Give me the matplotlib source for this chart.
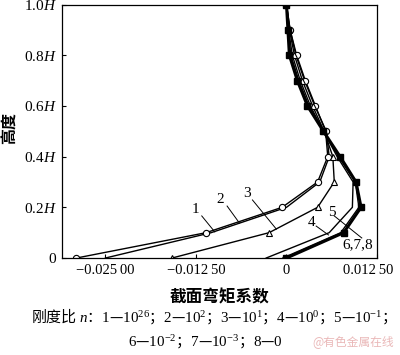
import matplotlib
matplotlib.use("Agg")
import matplotlib.pyplot as plt
import matplotlib.transforms as mtransforms

plt.rcParams['font.family'] = ['Liberation Serif', 'DejaVu Serif']
plt.rcParams['mathtext.fontset'] = 'custom'
plt.rcParams['mathtext.rm'] = 'Liberation Serif'
plt.rcParams['mathtext.it'] = 'Liberation Serif:italic'

# heights (fraction of H)
heights = [0.0, 0.1, 0.2, 0.3, 0.4, 0.5, 0.6, 0.7, 0.8, 0.9, 1.0]

# section moment coefficient for each stiffness ratio
curve1 = [-0.0290, -0.0111, -0.0006, 0.0043, 0.0057, 0.0054, 0.0040, 0.0026, 0.0014, 0.0005, 0.0]
curve2 = [-0.0250, -0.0104, 0.0000, 0.0046, 0.0059, 0.0055, 0.0039, 0.0025, 0.0013, 0.0005, 0.0]
curve3 = [-0.0158, -0.0024, 0.0043, 0.0066, 0.0064, 0.0052, 0.0036, 0.0022, 0.0011, 0.0004, 0.0]
curve4 = [-0.0028, 0.0059, 0.0091, 0.0092, 0.0070, 0.0051, 0.0033, 0.0019, 0.0008, 0.0003, 0.0]
curve5 = [-0.0005, 0.0075, 0.0100, 0.0095, 0.0072, 0.0051, 0.0031, 0.0017, 0.0006, 0.0002, 0.0]
curve678 = [0.0, 0.0079, 0.0103, 0.0096, 0.0074, 0.0051, 0.0029, 0.0015, 0.0004, 0.0002, 0.0]

xticks = [-0.025, -0.0125, 0.0, 0.0125]
xticklabels = ['\u22120.025\u200900', '\u22120.012\u200950', '0', '0.012\u200950']
yticks = [0.0, 0.2, 0.4, 0.6, 0.8, 1.0]
yticklabels = ['0', '0.2$H$', '0.4$H$', '0.6$H$', '0.8$H$', '1.0$H$']

# curve labels: text, text position, leader start, leader end
labels = [
    ('1', (-0.0125, 0.193), (-0.0117, 0.166), (-0.0099, 0.103)),
    ('2', (-0.0091, 0.229), (-0.0082, 0.205), (-0.0065, 0.138)),
    ('3', (-0.0054, 0.256), (-0.0047, 0.229), (-0.0014, 0.114)),
    ('4', (0.0034, 0.142), (0.0041, 0.126), (0.0058, 0.091)),
    ('5', (0.0062, 0.178), (0.0066, 0.166), (0.0104, 0.079)),
    ('6,7,8', (0.0098, 0.051), None, None),
]

fig = plt.figure(figsize=(4.0, 3.55), dpi=100)
ax = fig.add_axes([0.155, 0.2732, 0.7875, 0.7141])

ax.plot(curve2, heights, color='black', lw=1.0)
ax.plot(curve1, heights, color='black', lw=1.0, marker='o', ms=4.5,
        mfc='white', mec='black', mew=0.8)
ax.plot(curve3, heights, color='black', lw=1.0, marker='^', ms=4,
        mfc='white', mec='black', mew=0.8)
ax.plot(curve4, heights, color='black', lw=1.0)
ax.plot(curve5, heights, color='black', lw=1.0)
ax.plot(curve678, heights, color='black', lw=2.2, marker='s', ms=4.5,
        mfc='black', mec='black')

for txt, pos, p0, p1 in labels:
    ax.text(pos[0], pos[1], txt, fontsize=11, ha='center', va='center')
    if p0 is not None:
        ax.plot([p0[0], p1[0]], [p0[1], p1[1]], color='black', lw=0.7)

ax.set_xlim(-0.0310, 0.0125)
ax.set_ylim(0, 1.0)
ax.set_xticks(xticks)
ax.set_xticklabels(xticklabels)
ax.set_yticks(yticks)
ax.set_yticklabels(yticklabels)
ax.tick_params(direction='in', length=3, width=0.8, labelsize=11, pad=4)
ax.tick_params(axis='x', labelsize=10.5)
# last x label sits a little left of its tick so it stays inside the figure
last = ax.get_xticklabels()[-1]
last.set_transform(last.get_transform() +
                   mtransforms.ScaledTranslation(-6 / 72, 0, fig.dpi_scale_trans))
for s in ax.spines.values():
    s.set_linewidth(0.9)

cjk = ['Noto Sans CJK SC', 'Liberation Serif', 'DejaVu Serif']
fig.text(0.55, 0.163, '截面弯矩系数', fontsize=12, fontweight='bold',
         family=cjk, ha='center', va='center')
fig.text(0.025, 0.64, '高度', fontsize=11.5, fontweight='bold', family=cjk,
         rotation=90, ha='center', va='center')
fig.text(0.525, 0.110,
         '刚度比 $n$：$1$—$10^{26}$；$2$—$10^{2}$；$3$—$10^{1}$；$4$—$10^{0}$；$5$—$10^{-1}$；',
         fontsize=10.8, family=cjk, ha='center', va='center')
fig.text(0.5125, 0.037, '$6$—$10^{-2}$；$7$—$10^{-3}$；$8$—$0$',
         fontsize=10.8, family=cjk, ha='center', va='center')
fig.text(0.985, 0.037, '@有色金属在线', fontsize=8.5, family=cjk,
         color='#eab8b8', ha='right', va='center')

fig.savefig('out.png', dpi=100)
